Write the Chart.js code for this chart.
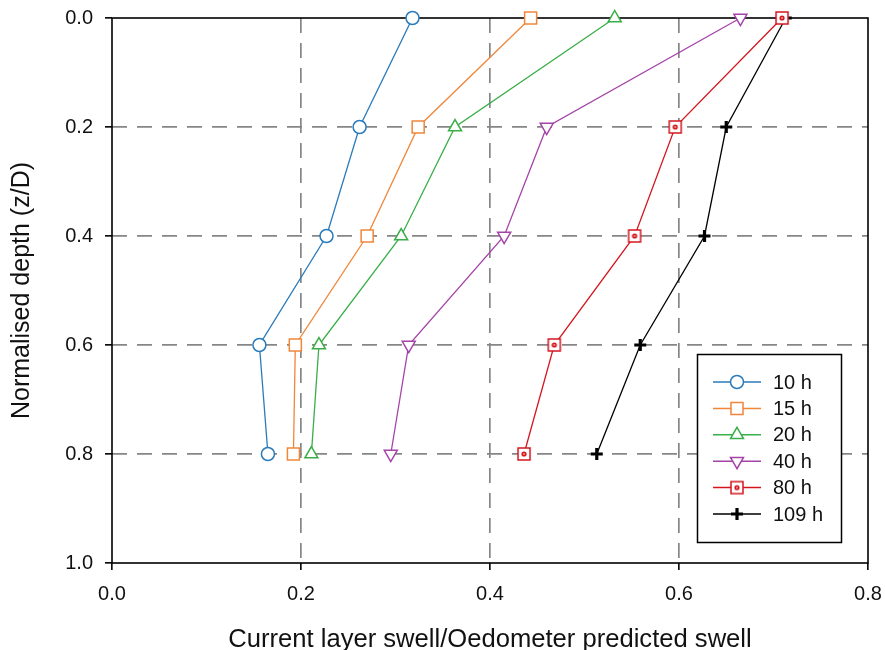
<!DOCTYPE html>
<html>
<head>
<meta charset="utf-8">
<script src="https://cdn.jsdelivr.net/npm/chart.js@4.4.1/dist/chart.umd.min.js"></script>
<style>
  html, body { margin: 0; padding: 0; background: #ffffff; }
  #wrap { width: 885px; height: 650px; position: relative; }
</style>
</head>
<body>
<div id="wrap"><canvas id="c" width="885" height="650"></canvas></div>
<script>
// ---- data ----
const depths = [0.0, 0.2, 0.4, 0.6, 0.8];
const seriesNames = ['10 h', '15 h', '20 h', '40 h', '80 h', '109 h'];
const swell10h  = [0.318, 0.262, 0.227, 0.156, 0.165];
const swell15h  = [0.443, 0.324, 0.270, 0.194, 0.192];
const swell20h  = [0.532, 0.363, 0.306, 0.219, 0.211];
const swell40h  = [0.665, 0.460, 0.415, 0.314, 0.295];
const swell80h  = [0.709, 0.596, 0.553, 0.468, 0.436];
const swell109h = [0.713, 0.650, 0.627, 0.559, 0.513];
const xTicks = [0.0, 0.2, 0.4, 0.6, 0.8];
const yTicks = [0.0, 0.2, 0.4, 0.6, 0.8, 1.0];

const FONT = "'Liberation Sans', Arial, Helvetica, sans-serif";
const GRID_GRAY = '#868686';

// custom marker for 80 h: square with a small dot inside
function makeDotSquare(color) {
  const cv = document.createElement('canvas');
  cv.width = 16; cv.height = 16;
  const g = cv.getContext('2d');
  g.fillStyle = '#ffffff';
  g.fillRect(2, 2, 12, 12);
  g.strokeStyle = color; g.lineWidth = 1.5;
  g.strokeRect(2, 2, 12, 12);
  g.fillStyle = color;
  g.beginPath(); g.arc(8, 8, 2.6, 0, Math.PI * 2); g.fill();
  g.fillStyle = '#f3a6a6';
  g.beginPath(); g.arc(8, 8, 0.9, 0, Math.PI * 2); g.fill();
  return cv;
}

const colors = ['#2a7bbb', '#f0863a', '#3aae48', '#a443a8', '#d4161f', '#000000'];
const values = [swell10h, swell15h, swell20h, swell40h, swell80h, swell109h];
const styles = [
  { pointStyle: 'circle',   pointRadius: 6.5, pointRotation: 0,   pointBorderWidth: 1.5 },
  { pointStyle: 'rect',     pointRadius: 8.5, pointRotation: 0,   pointBorderWidth: 1.5 },
  { pointStyle: 'triangle', pointRadius: 7.5, pointRotation: 0,   pointBorderWidth: 1.5 },
  { pointStyle: 'triangle', pointRadius: 7.5, pointRotation: 180, pointBorderWidth: 1.5 },
  { pointStyle: makeDotSquare(colors[4]), pointRadius: 8, pointRotation: 0, pointBorderWidth: 1.5 },
  { pointStyle: 'cross',    pointRadius: 6,   pointRotation: 0,   pointBorderWidth: 3.2 }
];

const datasets = seriesNames.map((name, i) => Object.assign({
  label: name,
  data: depths.map((d, k) => ({ x: values[i][k], y: d })),
  showLine: true,
  borderColor: colors[i],
  borderWidth: 1.3,
  backgroundColor: '#ffffff',
  pointBackgroundColor: '#ffffff',
  pointBorderColor: colors[i],
  pointHoverRadius: 0,
  clip: false,
  tension: 0
}, styles[i]));

function isEdge(scale, v) {
  return Math.abs(v - scale.min) < 1e-6 || Math.abs(v - scale.max) < 1e-6;
}

function zeroPad(scale) {
  scale.paddingTop = 0; scale.paddingBottom = 0;
  scale.paddingLeft = 0; scale.paddingRight = 0;
}

function drawMarker(ctx, ds, x, y) {
  const st = ds.pointStyle;
  ctx.save();
  ctx.strokeStyle = ds.pointBorderColor;
  ctx.fillStyle = ds.pointBackgroundColor;
  ctx.lineWidth = ds.pointBorderWidth;
  if (Chart.helpers && Chart.helpers.drawPoint) {
    Chart.helpers.drawPoint(ctx, { pointStyle: st, radius: ds.pointRadius, rotation: ds.pointRotation, borderWidth: ds.pointBorderWidth }, x, y);
  }
  ctx.restore();
}

const framePlugin = {
  id: 'frame',
  beforeDatasetsDraw(chart) {
    const a = chart.chartArea, ctx = chart.ctx;
    ctx.save();
    ctx.strokeStyle = '#000000';
    ctx.lineWidth = 1.6;
    ctx.strokeRect(a.left, a.top, a.right - a.left, a.bottom - a.top);
    ctx.restore();
  }
};

const legendPlugin = {
  id: 'boxLegend',
  afterDraw(chart) {
    const ctx = chart.ctx;
    const bx = 697.5, by = 354.5, bw = 144, bh = 188;
    ctx.save();
    ctx.fillStyle = '#ffffff';
    ctx.fillRect(bx, by, bw, bh);
    ctx.strokeStyle = '#000000';
    ctx.lineWidth = 1.5;
    ctx.strokeRect(bx, by, bw, bh);
    const dsets = chart.data.datasets;
    dsets.forEach((ds, i) => {
      const y = 382 + i * 26.4;
      ctx.strokeStyle = ds.borderColor;
      ctx.lineWidth = 1.5;
      ctx.beginPath();
      ctx.moveTo(713, y);
      ctx.lineTo(761, y);
      ctx.stroke();
      drawMarker(ctx, ds, 737, y);
      ctx.fillStyle = '#111111';
      ctx.font = '20px ' + FONT;
      ctx.textAlign = 'left';
      ctx.textBaseline = 'middle';
      ctx.fillText(ds.label, 773, y + 1);
    });
    ctx.restore();
  }
};

new Chart(document.getElementById('c'), {
  type: 'scatter',
  data: { datasets },
  options: {
    responsive: false,
    animation: false,
    events: [],
    layout: { padding: { top: 18, right: 17, left: 0, bottom: 0 } },
    plugins: { legend: { display: false }, tooltip: { enabled: false } },
    scales: {
      x: {
        type: 'linear',
        min: 0, max: 0.8,
        afterFit(scale) { scale.height = 87; zeroPad(scale); },
        afterBuildTicks(scale) { scale.ticks = xTicks.map(v => ({ value: v })); },
        ticks: {
          callback: v => Number(v).toFixed(1),
          font: { family: FONT, size: 20 },
          color: '#111111',
          padding: 12,
          maxRotation: 0
        },
        grid: {
          color: ctx => (ctx.tick && isEdge(ctx.scale, ctx.tick.value)) ? 'rgba(0,0,0,0)' : GRID_GRAY,
          lineWidth: 1.7,
          tickColor: '#000000',
          tickLength: 7,
          tickWidth: 1.6,
          drawTicks: true
        },
        border: { display: false, dash: [15, 10] },
        title: {
          display: true,
          text: 'Current layer swell/Oedometer predicted swell',
          font: { family: FONT, size: 25.6, lineHeight: 0.8 },
          color: '#111111',
          padding: 0
        }
      },
      y: {
        type: 'linear',
        reverse: true,
        min: 0, max: 1.0,
        afterFit(scale) { scale.width = 112; zeroPad(scale); },
        afterBuildTicks(scale) { scale.ticks = yTicks.map(v => ({ value: v })); },
        ticks: {
          callback: v => Number(v).toFixed(1),
          font: { family: FONT, size: 20 },
          color: '#111111',
          padding: 12
        },
        grid: {
          color: ctx => (ctx.tick && isEdge(ctx.scale, ctx.tick.value)) ? 'rgba(0,0,0,0)' : GRID_GRAY,
          lineWidth: 1.7,
          tickColor: '#000000',
          tickLength: 7,
          tickWidth: 1.6,
          drawTicks: true
        },
        border: { display: false, dash: [15, 10] },
        title: {
          display: true,
          text: 'Normalised depth (z/D)',
          font: { family: FONT, size: 25, lineHeight: 1 },
          color: '#111111',
          padding: { top: 10, bottom: 0 }
        }
      }
    }
  },
  plugins: [framePlugin, legendPlugin]
});
</script>
</body>
</html>
